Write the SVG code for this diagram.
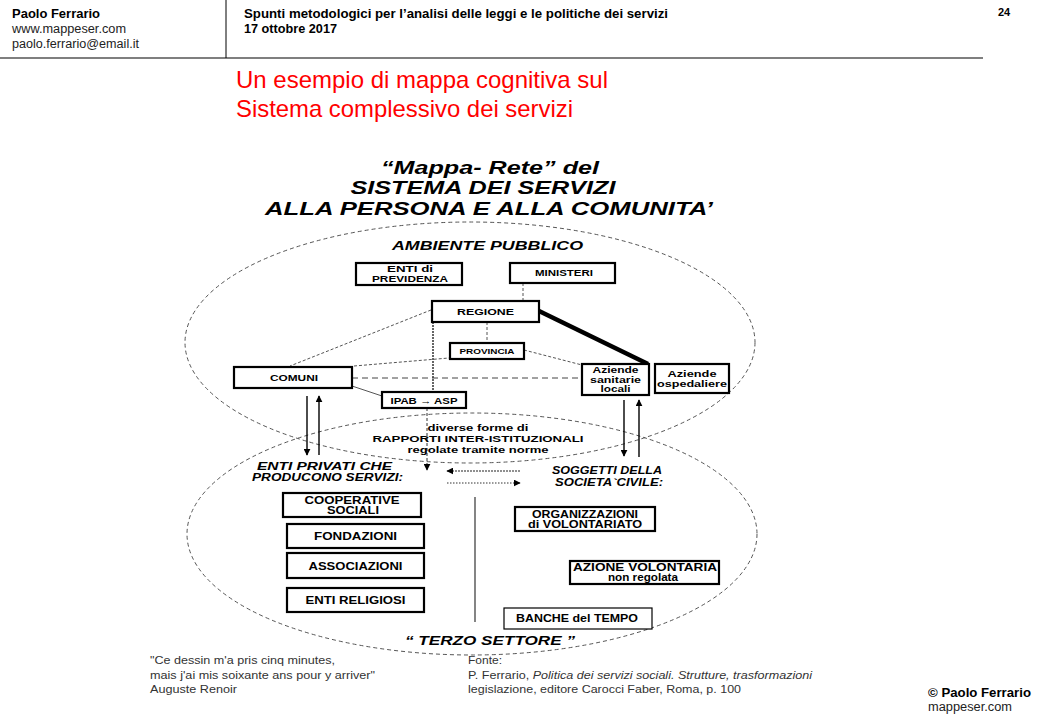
<svg xmlns="http://www.w3.org/2000/svg" width="1040" height="720" viewBox="0 0 1040 720">
<defs>
<style>
text{font-family:'Liberation Sans',Arial,sans-serif;fill:#000}
.hb{font-weight:bold;font-size:12px}
.hn{font-size:12px;fill:#222}
.red{font-size:24px;fill:#ff0000}
.tt{font-weight:bold;font-style:italic;font-size:18px}
.bi{font-weight:bold;font-style:italic;font-size:11px}
.bx{font-weight:bold;font-size:9px}
.bx2{font-weight:bold;font-size:10px}
.ft{font-size:11px;fill:#333}
.box{fill:#fff;stroke:#000;stroke-width:2.2}
.thin{fill:#fff;stroke:#000;stroke-width:1.2}
.ell{fill:none;stroke:#555;stroke-width:1;stroke-dasharray:4 3}
.dash{fill:none;stroke:#555;stroke-width:1;stroke-dasharray:3 2}
.ar{stroke:#000;stroke-width:1.4;fill:none}
</style>
<marker id="ah" viewBox="0 0 10 10" refX="9" refY="5" markerWidth="7" markerHeight="7" markerUnits="userSpaceOnUse" orient="auto">
<path d="M0,0 L10,5 L0,10 z" fill="#000"/>
</marker>
</defs>
<rect width="1040" height="720" fill="#fff"/>

<g id="header">
<line x1="226" y1="0" x2="226" y2="58" stroke="#000" stroke-width="1"/>
<line x1="0" y1="58" x2="983" y2="58" stroke="#000" stroke-width="1.2"/>
<text class="hb" x="12" y="18" textLength="88" lengthAdjust="spacingAndGlyphs">Paolo Ferrario</text>
<text class="hn" x="12" y="33" textLength="114" lengthAdjust="spacingAndGlyphs">www.mappeser.com</text>
<text class="hn" x="12" y="48" textLength="127" lengthAdjust="spacingAndGlyphs">paolo.ferrario@email.it</text>
<text class="hb" x="244" y="18" textLength="424" lengthAdjust="spacingAndGlyphs">Spunti metodologici per l’analisi delle leggi e le politiche dei servizi</text>
<text class="hb" x="244" y="33" textLength="93" lengthAdjust="spacingAndGlyphs">17 ottobre 2017</text>
<text class="hb" x="998" y="16" style="font-size:11px">24</text>
</g>

<g id="title">
<text class="red" x="236" y="88" textLength="372" lengthAdjust="spacingAndGlyphs">Un esempio di mappa cognitiva sul</text>
<text class="red" x="236" y="117" textLength="337" lengthAdjust="spacingAndGlyphs">Sistema complessivo dei servizi</text>
</g>

<g id="map-title" text-anchor="middle">
<text class="tt" x="490" y="174" textLength="218" lengthAdjust="spacingAndGlyphs">“Mappa- Rete” del</text>
<text class="tt" x="483" y="194" textLength="265" lengthAdjust="spacingAndGlyphs">SISTEMA DEI SERVIZI</text>
<text class="tt" x="489" y="215" textLength="448" lengthAdjust="spacingAndGlyphs">ALLA PERSONA E ALLA COMUNITA’</text>
</g>

<g id="areas">
<ellipse class="ell" cx="470" cy="342.5" rx="285" ry="120.5"/>
<ellipse class="ell" cx="472" cy="534" rx="285" ry="121"/>
<text class="bi" x="487.5" y="250" text-anchor="middle" textLength="191" lengthAdjust="spacingAndGlyphs" style="font-size:12px">AMBIENTE  PUBBLICO</text>
<text class="bi" x="490" y="645" text-anchor="middle" textLength="170" lengthAdjust="spacingAndGlyphs" style="font-size:13px">“ TERZO  SETTORE ”</text>
</g>

<g id="connectors">
<line class="dash" x1="523" y1="283" x2="523" y2="301"/>
<line class="dash" x1="487" y1="322" x2="487" y2="343"/>
<line class="dash" x1="431" y1="310" x2="290" y2="366"/>
<line class="dash" x1="354" y1="366" x2="449" y2="358"/>
<line class="dash" x1="524" y1="350" x2="582" y2="365"/>
<line x1="352" y1="378" x2="582" y2="378" stroke="#444" stroke-width="1" stroke-dasharray="6 4"/>
<line x1="352" y1="386" x2="382" y2="396" stroke="#555" stroke-width="1"/>
<line x1="433" y1="322" x2="433" y2="392" stroke="#333" stroke-width="1.5" stroke-dasharray="2 1"/>
<line x1="539" y1="311" x2="648" y2="364" stroke="#000" stroke-width="4.5"/>
<line class="ar" x1="307" y1="396" x2="307" y2="455" marker-end="url(#ah)"/>
<line class="ar" x1="319" y1="455" x2="319" y2="396" marker-end="url(#ah)"/>
<line class="ar" x1="624" y1="400" x2="624" y2="456" marker-end="url(#ah)"/>
<line class="ar" x1="639" y1="457" x2="639" y2="400" marker-end="url(#ah)"/>
<line x1="427" y1="408" x2="427" y2="470" stroke="#333" stroke-width="1" stroke-dasharray="3 2" marker-end="url(#ah)"/>
<line x1="520" y1="471" x2="447" y2="471" stroke="#222" stroke-width="1.2" stroke-dasharray="2 1" marker-end="url(#ah)"/>
<line x1="447" y1="483" x2="520" y2="483" stroke="#333" stroke-width="1" stroke-dasharray="1.5 1.5" marker-end="url(#ah)"/>
<line x1="475" y1="497" x2="475" y2="622" stroke="#666" stroke-width="1.6"/>
</g>

<g id="enti-previdenza">
<rect class="box" x="356" y="263" width="106" height="22"/>
<text class="bx" x="410" y="272" text-anchor="middle" textLength="46" lengthAdjust="spacingAndGlyphs">ENTI di</text>
<text class="bx" x="410" y="282" text-anchor="middle" textLength="76" lengthAdjust="spacingAndGlyphs">PREVIDENZA</text>
</g>
<g id="ministeri">
<rect class="box" x="510" y="263" width="105" height="20"/>
<text class="bx" x="564" y="276" text-anchor="middle" textLength="58" lengthAdjust="spacingAndGlyphs">MINISTERI</text>
</g>
<g id="regione">
<rect class="box" x="432" y="301" width="107" height="21"/>
<text class="bx" x="485.5" y="315" text-anchor="middle" textLength="57" lengthAdjust="spacingAndGlyphs">REGIONE</text>
</g>
<g id="provincia">
<rect class="box" x="450" y="343" width="74" height="16"/>
<text class="bx" x="487" y="354" text-anchor="middle" textLength="55" lengthAdjust="spacingAndGlyphs" style="font-size:8px">PROVINCIA</text>
</g>
<g id="comuni">
<rect class="box" x="234" y="367" width="118" height="21"/>
<text class="bx" x="294" y="381" text-anchor="middle" textLength="48" lengthAdjust="spacingAndGlyphs">COMUNI</text>
</g>
<g id="ipab-asp">
<rect class="box" x="382" y="392" width="84" height="16"/>
<text class="bx" x="424" y="404" text-anchor="middle" textLength="67" lengthAdjust="spacingAndGlyphs">IPAB → ASP</text>
</g>
<g id="aziende-sanitarie">
<rect class="box" x="582" y="364" width="67" height="31"/>
<text class="bx" x="615.5" y="373" text-anchor="middle" textLength="46" lengthAdjust="spacingAndGlyphs">Aziende</text>
<text class="bx" x="615.5" y="383" text-anchor="middle" textLength="51" lengthAdjust="spacingAndGlyphs">sanitarie</text>
<text class="bx" x="615.5" y="392" text-anchor="middle" textLength="30" lengthAdjust="spacingAndGlyphs">locali</text>
</g>
<g id="aziende-ospedaliere">
<rect class="box" x="655" y="364" width="74" height="29"/>
<text class="bx" x="692" y="377" text-anchor="middle" textLength="49" lengthAdjust="spacingAndGlyphs">Aziende</text>
<text class="bx" x="692" y="387" text-anchor="middle" textLength="70" lengthAdjust="spacingAndGlyphs">ospedaliere</text>
</g>

<g id="rapporti" text-anchor="middle">
<text class="bx" x="478" y="431" textLength="101" lengthAdjust="spacingAndGlyphs">diverse forme di</text>
<text class="bx" x="478" y="442" textLength="211" lengthAdjust="spacingAndGlyphs">RAPPORTI INTER-ISTITUZIONALI</text>
<text class="bx" x="478" y="453" textLength="141" lengthAdjust="spacingAndGlyphs">regolate tramite norme</text>
</g>

<g id="enti-privati" text-anchor="middle">
<text class="bi" x="324.5" y="470" textLength="135" lengthAdjust="spacingAndGlyphs">ENTI  PRIVATI  CHE</text>
<text class="bi" x="327.5" y="481" textLength="151" lengthAdjust="spacingAndGlyphs">PRODUCONO  SERVIZI:</text>
</g>
<g id="soggetti" text-anchor="middle">
<text class="bi" x="607" y="474" textLength="110" lengthAdjust="spacingAndGlyphs">SOGGETTI DELLA</text>
<text class="bi" x="609" y="486" textLength="108" lengthAdjust="spacingAndGlyphs">SOCIETA`CIVILE:</text>
</g>

<g id="cooperative">
<rect class="box" x="283" y="493" width="138" height="24"/>
<text class="bx2" x="352" y="504" text-anchor="middle" textLength="95" lengthAdjust="spacingAndGlyphs">COOPERATIVE</text>
<text class="bx2" x="353" y="514" text-anchor="middle" textLength="52" lengthAdjust="spacingAndGlyphs">SOCIALI</text>
</g>
<g id="fondazioni">
<rect class="box" x="287" y="524" width="137" height="24"/>
<text class="bx2" x="355.5" y="540" text-anchor="middle" textLength="83" lengthAdjust="spacingAndGlyphs">FONDAZIONI</text>
</g>
<g id="associazioni">
<rect class="box" x="287" y="553" width="137" height="25"/>
<text class="bx2" x="355.5" y="570" text-anchor="middle" textLength="94" lengthAdjust="spacingAndGlyphs">ASSOCIAZIONI</text>
</g>
<g id="enti-religiosi">
<rect class="box" x="287" y="588" width="137" height="24"/>
<text class="bx2" x="355.5" y="604" text-anchor="middle" textLength="100" lengthAdjust="spacingAndGlyphs">ENTI RELIGIOSI</text>
</g>
<g id="organizzazioni">
<rect class="box" x="515" y="507" width="140" height="24"/>
<text class="bx2" x="585" y="518" text-anchor="middle" textLength="106" lengthAdjust="spacingAndGlyphs">ORGANIZZAZIONI</text>
<text class="bx2" x="585" y="528" text-anchor="middle" textLength="114" lengthAdjust="spacingAndGlyphs">di VOLONTARIATO</text>
</g>
<g id="azione-volontaria">
<rect class="box" x="570" y="561" width="149" height="23"/>
<text class="bx2" x="645" y="571" text-anchor="middle" textLength="144" lengthAdjust="spacingAndGlyphs">AZIONE VOLONTARIA</text>
<text class="bx2" x="643" y="581" text-anchor="middle" textLength="70" lengthAdjust="spacingAndGlyphs">non regolata</text>
</g>
<g id="banche-tempo">
<rect class="thin" x="504" y="608" width="148" height="21"/>
<text class="bx2" x="577" y="622" text-anchor="middle" textLength="122" lengthAdjust="spacingAndGlyphs">BANCHE  del TEMPO</text>
</g>

<g id="footer">
<text class="ft" x="150" y="664" textLength="185" lengthAdjust="spacingAndGlyphs">"Ce dessin m'a pris cinq minutes,</text>
<text class="ft" x="150" y="679" textLength="225" lengthAdjust="spacingAndGlyphs">mais j'ai mis soixante ans pour y arriver"</text>
<text class="ft" x="150" y="693" textLength="87" lengthAdjust="spacingAndGlyphs">Auguste Renoir</text>
<text class="ft" x="468" y="664" textLength="34" lengthAdjust="spacingAndGlyphs">Fonte:</text>
<text class="ft" x="468" y="679" textLength="344" lengthAdjust="spacingAndGlyphs">P. Ferrario, <tspan font-style="italic">Politica dei servizi sociali. Strutture, trasformazioni</tspan></text>
<text class="ft" x="468" y="693" textLength="273" lengthAdjust="spacingAndGlyphs">legislazione, editore Carocci Faber, Roma, p. 100</text>
<text class="hb" x="928" y="697" textLength="103" lengthAdjust="spacingAndGlyphs">© Paolo Ferrario</text>
<text class="hn" x="928" y="711" textLength="84" lengthAdjust="spacingAndGlyphs">mappeser.com</text>
</g>
</svg>
